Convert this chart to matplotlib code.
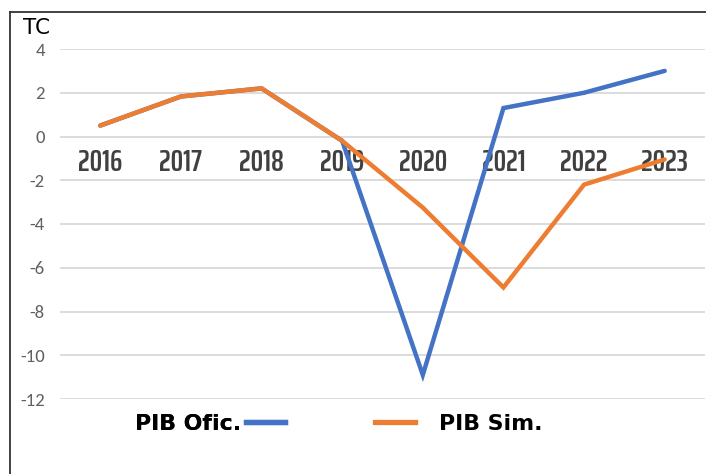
import matplotlib
matplotlib.use("Agg")
import matplotlib.pyplot as plt
from matplotlib.lines import Line2D
import numpy as np

years = ["2016", "2017", "2018", "2019", "2020", "2021", "2022", "2023"]
pib_ofic = [0.5, 1.83, 2.2, -0.2, -10.9, 1.3, 2.0, 3.0]
pib_sim = [0.5, 1.83, 2.2, -0.2, -3.25, -6.9, -2.2, -1.05]
yticks = [4, 2, 0, -2, -4, -6, -8, -10, -12]

W, H = 706, 474
fig = plt.figure(figsize=(W / 100, H / 100), dpi=100)
fig.patch.set_facecolor("white")

ax = fig.add_axes([60 / W, 1 - 399 / H, (705 - 60) / W, (399 - 49) / H])
x = np.arange(len(years))

ax.plot(x, pib_ofic, color="#4472C4", lw=3.2, solid_capstyle="round",
        solid_joinstyle="miter", zorder=3, clip_on=False)
ax.plot(x, pib_sim, color="#ED7D31", lw=3.2, solid_capstyle="round",
        solid_joinstyle="miter", zorder=4, clip_on=False)

ax.set_xlim(-0.5, len(years) - 0.5)
ax.set_ylim(-12, 4)
ax.set_yticks(yticks)
ax.set_yticklabels([str(v) for v in yticks], family=["Carlito", "DejaVu Sans"],
                   fontsize=13.5, color="#606060")
ax.tick_params(axis="y", length=0, pad=11)
ax.set_xticks([])
ax.grid(axis="y", color="#d9d9d9", lw=1.3)
ax.set_axisbelow(True)
for s in ax.spines.values():
    s.set_visible(False)

for i, yr in enumerate(years):
    ax.annotate(yr, xy=(i, 0), xytext=(0, -26), textcoords="offset pixels",
                ha="center", va="center", fontsize=22.5, fontweight=600,
                family=["Saira ExtraCondensed", "DejaVu Sans"],
                color="#404040", zorder=2)

fig.text(23 / W, 1 - 28 / H, "TC", fontsize=15.5, fontfamily="DejaVu Sans",
         color="black", va="center", ha="left")

# frame lines
fig.add_artist(Line2D([10 / W, 10 / W], [0, 1 - 12 / H], color="#333333", lw=1.3,
                      transform=fig.transFigure))
fig.add_artist(Line2D([10 / W, 1], [1 - 12 / H, 1 - 12 / H], color="#333333", lw=1.3,
                      transform=fig.transFigure))

h1 = Line2D([], [], color="#4472C4", lw=3.8)
h2 = Line2D([], [], color="#ED7D31", lw=3.8)
leg1 = fig.legend([h1], ["PIB Ofic."], loc="center left",
                  bbox_to_anchor=(135 / W, 1 - 424 / H), frameon=False,
                  markerfirst=False, handlelength=1.8, handletextpad=0.2,
                  borderpad=0, borderaxespad=0,
                  prop={"family": "DejaVu Sans", "weight": "bold", "size": 15.8})
fig.add_artist(leg1)
leg2 = fig.legend([h2], ["PIB Sim."], loc="center left",
                  bbox_to_anchor=(375 / W, 1 - 424 / H), frameon=False,
                  markerfirst=True, handlelength=1.8, handletextpad=1.1,
                  borderpad=0, borderaxespad=0,
                  prop={"family": "DejaVu Sans", "weight": "bold", "size": 15.8})

fig.savefig("out.png", dpi=100)
